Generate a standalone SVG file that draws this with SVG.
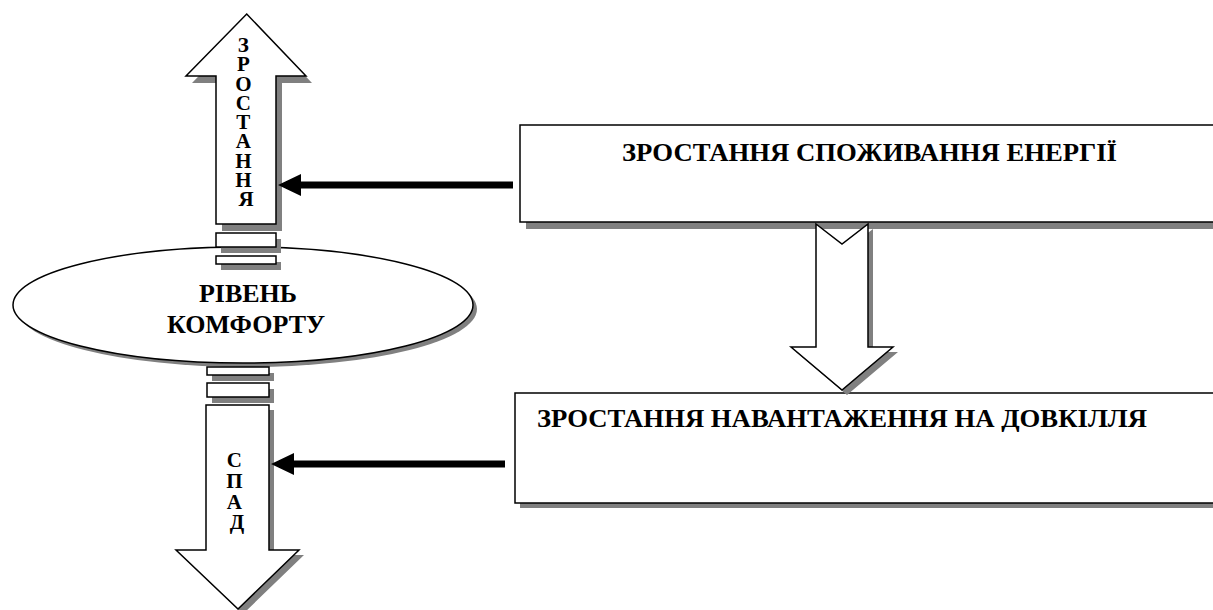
<svg xmlns="http://www.w3.org/2000/svg" xmlns:xlink="http://www.w3.org/1999/xlink" width="1213" height="610" viewBox="0 0 1213 610">
<defs>
<style>
.sh{fill:#808080;stroke:none}
.ol{fill:#fff;stroke:#000;stroke-width:1.5}
.t{font-family:"Liberation Serif","Times New Roman",serif;font-weight:bold;fill:#000}
.blk{fill:#000;stroke:none}
</style>
<path id="upA" d="M246.7,14 L306,76 L276,76 L276,224 L216,224 L216,76 L186,76 Z"/>
<path id="dnA" d="M206,405 L269,405 L269,550 L299,550 L238,609 L176,550 L206,550 Z"/>
<path id="midA" d="M816,224 L842,244 L868,224 L868,347 L893,347 L842,390 L791,347 L816,347 Z"/>
</defs>
<rect width="1213" height="610" fill="#fff"/>

<g id="box-energy">
<rect class="sh" x="526" y="132" width="700" height="97"/>
<rect class="ol" x="520" y="125" width="700" height="97"/>
<text class="t" x="622" y="161" font-size="26" textLength="495" lengthAdjust="spacingAndGlyphs">ЗРОСТАННЯ СПОЖИВАННЯ ЕНЕРГІЇ</text>
</g>

<g id="box-environment">
<rect class="sh" x="520" y="398" width="700" height="110"/>
<rect class="ol" x="515" y="393" width="710" height="110"/>
<text class="t" x="537" y="427" font-size="26" textLength="610" lengthAdjust="spacingAndGlyphs">ЗРОСТАННЯ НАВАНТАЖЕННЯ НА ДОВКІЛЛЯ</text>
</g>

<g id="comfort">
<ellipse class="sh" cx="247" cy="309" rx="230" ry="58"/>
<ellipse class="ol" cx="243" cy="305" rx="230" ry="58"/>
<text class="t" x="248" y="302" font-size="26" text-anchor="middle">РІВЕНЬ</text>
<text class="t" x="246" y="333" font-size="26" text-anchor="middle">КОМФОРТУ</text>
</g>

<g id="growth">
<use xlink:href="#upA" class="sh" transform="translate(6,7)"/>
<use xlink:href="#upA" class="ol"/>
<rect class="sh" x="221" y="239" width="60" height="14"/>
<rect class="ol" x="216" y="233" width="60" height="14"/>
<rect class="sh" x="221" y="262" width="60" height="8"/>
<rect class="ol" x="216" y="256" width="60" height="8"/>
<text class="t" font-size="21" text-anchor="middle">
<tspan x="246" y="52">З</tspan>
<tspan x="246" y="71.3">Р</tspan>
<tspan x="246" y="90.5">О</tspan>
<tspan x="246" y="109.8">С</tspan>
<tspan x="246" y="129">Т</tspan>
<tspan x="246" y="148.3">А</tspan>
<tspan x="246" y="167.5">Н</tspan>
<tspan x="246" y="186.8">Н</tspan>
<tspan x="246" y="206">Я</tspan>
</text>
</g>

<g id="decline">
<rect class="sh" x="212" y="373" width="62" height="8"/>
<rect class="ol" x="207" y="367" width="62" height="8"/>
<rect class="sh" x="212" y="389" width="62" height="14"/>
<rect class="ol" x="207" y="383" width="62" height="14"/>
<use xlink:href="#dnA" class="sh" transform="translate(5,5)"/>
<use xlink:href="#dnA" class="ol"/>
<text class="t" font-size="21" text-anchor="middle">
<tspan x="237" y="467">С</tspan>
<tspan x="237" y="488">П</tspan>
<tspan x="237" y="509">А</tspan>
<tspan x="237" y="529">Д</tspan>
</text>
</g>

<g id="connectors">
<use xlink:href="#midA" class="sh" transform="translate(5,5)"/>
<use xlink:href="#midA" class="ol"/>
<polygon class="blk" points="278,185 301,174 301,181.5 513,181.5 513,188.5 301,188.5 301,196"/>
<polygon class="blk" points="271,464 294,453 294,460.5 505,460.5 505,467.5 294,467.5 294,475"/>
</g>
</svg>
